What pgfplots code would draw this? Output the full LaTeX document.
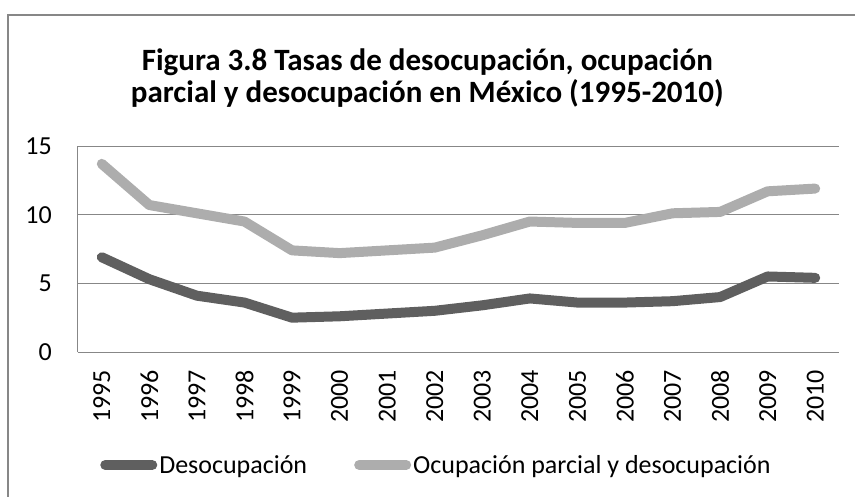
\documentclass[border=0pt]{standalone}
\usepackage{fontspec}
\setmainfont{Carlito}
\usepackage{pgfplots}
\pgfplotsset{compat=1.18}
\definecolor{darkser}{HTML}{5F5F5F}
\definecolor{lightser}{HTML}{ADADAD}
\definecolor{gridc}{HTML}{878787}
\begin{document}
\begin{tikzpicture}
\useasboundingbox (-78pt,-144pt) rectangle (777pt,352pt);
\draw[gridc, line width=1.3pt] (-70pt,337pt) rectangle (900pt,-300pt);
\begin{axis}[
  at={(0pt,0pt)}, anchor=south west,
  scale only axis, width=761pt, height=206pt,
  xmin=-0.5, xmax=15.5, ymin=0, ymax=15,
  xtick={0,...,15},
  xticklabels={1995,1996,1997,1998,1999,2000,2001,2002,2003,2004,2005,2006,2007,2008,2009,2010},
  ytick={0,5,10,15},
  ymajorgrids, grid style={gridc, line width=1pt},
  axis x line=bottom, axis y line=left,
  axis line style={gridc, line width=1pt, -},
  major tick length=0pt,
  tick label style={font=\fontsize{26}{30}\selectfont, inner sep=0pt},
  /pgf/number format/assume math mode=true,
  xticklabel style={rotate=90, anchor=east},
  xticklabel shift=18pt,
  yticklabel shift=26pt,
  title={Figura 3.8 Tasas de desocupación, ocupación\\parcial y desocupación en México (1995-2010)},
  title style={at={(axis description cs:0.459,1.301)}, anchor=center, align=center,
    font=\fontsize{31}{32}\selectfont\bfseries},
  legend columns=2,
  legend style={at={(axis description cs:0.029,-0.5485)}, anchor=west, draw=none, fill=none,
    inner sep=0pt, font=\fontsize{26}{30}\selectfont,
    nodes={inner sep=2pt},
    /tikz/every even column/.append style={column sep=45pt}},
  legend image code/.code={\draw[#1] (0pt,0pt) -- (47pt,0pt);},
]
\addplot[darkser, line width=10pt, line cap=round, line join=round, mark=none] coordinates {
(0,6.9) (1,5.3) (2,4.1) (3,3.6) (4,2.5) (5,2.6) (6,2.8) (7,3.0)
(8,3.4) (9,3.9) (10,3.6) (11,3.6) (12,3.7) (13,4.0) (14,5.5) (15,5.4)};
\addlegendentry{Desocupación}
\addplot[lightser, line width=10pt, line cap=round, line join=round, mark=none] coordinates {
(0,13.7) (1,10.7) (2,10.1) (3,9.5) (4,7.4) (5,7.2) (6,7.4) (7,7.6)
(8,8.5) (9,9.5) (10,9.4) (11,9.4) (12,10.1) (13,10.2) (14,11.7) (15,11.9)};
\addlegendentry{Ocupación parcial y desocupación}
\end{axis}
\end{tikzpicture}
\end{document}
